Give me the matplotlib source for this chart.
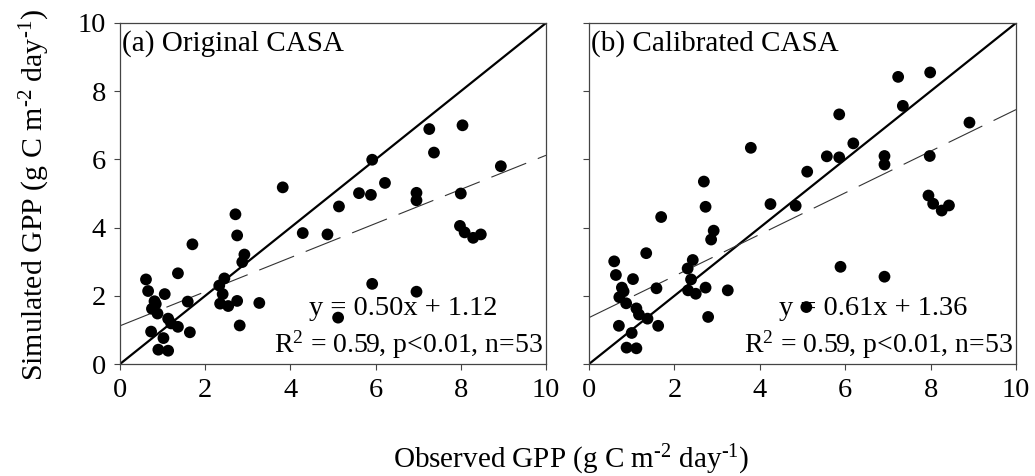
import matplotlib
matplotlib.use("Agg")
import matplotlib.pyplot as plt
import numpy as np

plt.rcParams['font.family'] = ['Liberation Serif', 'DejaVu Serif']
plt.rcParams['mathtext.fontset'] = 'custom'
plt.rcParams['mathtext.rm'] = 'Liberation Serif'
plt.rcParams['mathtext.it'] = 'Liberation Serif:italic'
plt.rcParams['mathtext.default'] = 'regular'
plt.rcParams['lines.scale_dashes'] = False

# ---- data: panel (a) Original CASA ----
obs_a = [3.82, 2.71, 2.75, 4.29, 1.70, 2.92, 2.87, 1.36, 0.61, 2.45, 2.33, 0.66, 1.05, 2.41,
         0.81, 0.84, 1.59, 2.75, 3.27, 2.35, 2.54, 0.75, 0.88, 1.13, 1.20, 1.36, 2.81, 0.73,
         1.64, 1.02, 0.90, 1.13,
         5.92, 7.26, 8.04, 7.37, 8.94, 6.22, 5.61, 5.89, 6.96, 6.96, 8.00, 5.14, 4.87, 7.98,
         8.09, 8.29, 8.47, 5.92, 6.96, 5.12]
sim_a = [5.18, 4.39, 3.77, 3.84, 3.51, 3.21, 2.99, 2.66, 2.48, 2.51, 2.30, 2.14, 2.05, 2.05,
         1.84, 1.76, 1.83, 1.85, 1.79, 1.77, 1.70, 1.62, 1.48, 1.33, 1.19, 1.09, 1.13, 0.95,
         0.93, 0.76, 0.42, 0.39,
         5.99, 6.89, 7.00, 6.20, 5.80, 5.31, 5.01, 4.96, 5.02, 4.80, 5.00, 4.62, 3.80, 4.05,
         3.86, 3.70, 3.80, 2.35, 2.12, 1.36]

# ---- data: panel (b) Calibrated CASA ----
obs_b = [3.79, 2.69, 2.73, 4.25, 1.69, 2.92, 2.86, 1.34, 0.59, 2.43, 2.31, 0.63, 1.03, 2.39,
         0.77, 1.58, 2.73, 3.25, 0.81, 2.32, 2.50, 0.71, 0.87, 1.11, 1.17, 1.37, 2.79, 0.70,
         1.62, 1.00, 0.88, 1.11,
         7.24, 7.99, 7.35, 5.86, 8.91, 6.19, 5.57, 5.86, 6.92, 6.92, 7.98, 5.11, 4.84, 7.95,
         8.06, 8.26, 8.43, 5.89, 6.92, 5.09]
sim_b = [6.34, 5.35, 4.61, 4.69, 4.31, 3.91, 3.65, 3.25, 3.01, 3.05, 2.80, 2.61, 2.49, 2.48,
         2.24, 2.22, 2.24, 2.16, 2.13, 2.16, 2.06, 1.96, 1.78, 1.63, 1.45, 1.33, 1.38, 1.12,
         1.12, 0.91, 0.48, 0.46,
         8.42, 8.55, 7.57, 7.32, 7.08, 6.47, 6.09, 6.06, 6.10, 5.85, 6.10, 5.64, 4.64, 4.94,
         4.70, 4.50, 4.65, 2.85, 2.56, 1.67]

panel_titles = ["(a) Original CASA", "(b) Calibrated CASA"]
fit_slope = [0.50, 0.61]
fit_intercept = [1.12, 1.36]
eq_texts = ["y = 0.50x + 1.12", "y = 0.61x + 1.36"]
stat_texts = ["R$^{2}$ = 0.59, p<0.01, n=53", "R$^{2}$ = 0.59, p<0.01, n=53"]
ticks = [0, 2, 4, 6, 8, 10]
tick_labels = ["0", "2", "4", "6", "8", "10"]
ylabel = r"Simulated GPP (g C m$^{\text{-}2}$ day$^{\text{-}1}$)"
xlabel = r"Observed GPP (g C m$^{\text{-}2}$ day$^{\text{-}1}$)"

W, H = 1035, 476
fig = plt.figure(figsize=(W / 100, H / 100), dpi=100)
ax_a = fig.add_axes([120 / W, 1 - 364 / H, 426 / W, 341 / H])
ax_b = fig.add_axes([589 / W, 1 - 364 / H, 427 / W, 341 / H])

data = [(obs_a, sim_a), (obs_b, sim_b)]
for i, ax in enumerate([ax_a, ax_b]):
    obs, sim = data[i]
    ax.set_xlim(0, 10)
    ax.set_ylim(0, 10)
    # 1:1 line
    ax.plot([0, 10], [0, 10], color='black', lw=1.6, zorder=2)
    # regression line
    xx = np.array([0, 10])
    ax.plot(xx, fit_slope[i] * xx + fit_intercept[i], color='#333333', lw=0.8,
            dashes=(27, 9), zorder=2)
    ax.scatter(obs, sim, s=72, color='black', edgecolors='none', zorder=3)
    ax.set_xticks(ticks)
    ax.set_xticklabels(tick_labels, fontsize=20.5)
    ax.set_yticks(ticks)
    if i == 0:
        ax.set_yticklabels(tick_labels, fontsize=20.5)
    else:
        ax.set_yticklabels([])
    ax.tick_params(direction='out', length=4, width=0.8, color='#444444', pad=6)
    for sp in ax.spines.values():
        sp.set_color('#444444')
        sp.set_linewidth(0.9)
    ax.text(0.005, 0.94, panel_titles[i], transform=ax.transAxes, fontsize=21,
            ha='left', va='center')
    ax.text(8.85, 1.64, eq_texts[i], fontsize=20.5, ha='right', va='center', zorder=4)
    ax.text(9.93, 0.56, stat_texts[i], fontsize=20, ha='right', va='center', zorder=4)

fig.text(35 / W, 1 - 195 / H, ylabel, rotation=90,
         fontsize=21.5, ha='center', va='center')
fig.text(571 / W, 1 - 460 / H, xlabel,
         fontsize=21, ha='center', va='center')

fig.savefig("out.png", dpi=100)
